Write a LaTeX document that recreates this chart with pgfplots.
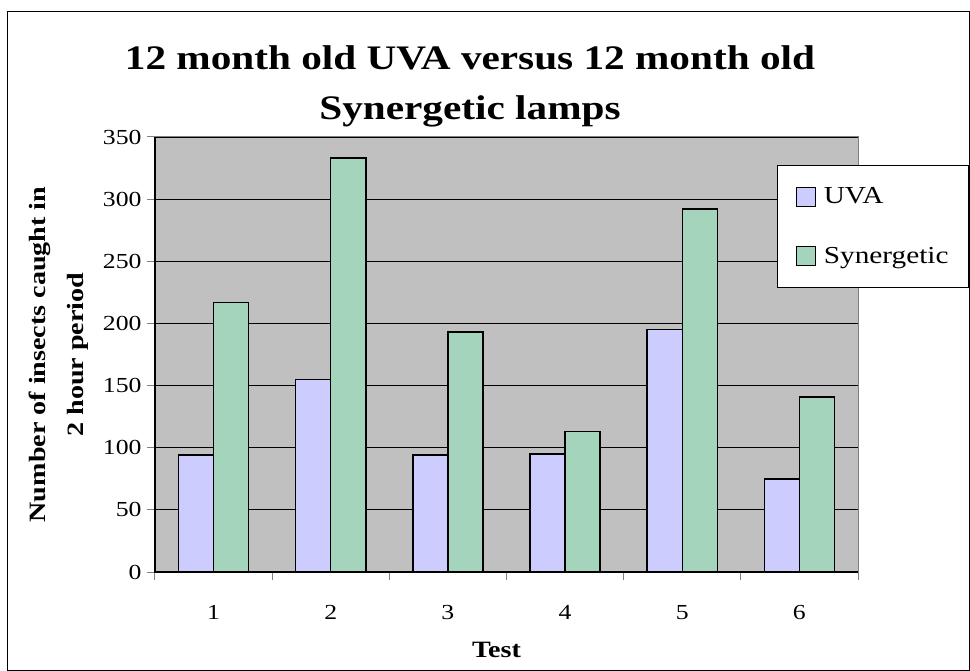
\documentclass[border=0pt]{standalone}
\usepackage{fontspec}
\setmainfont{Liberation Serif}[FakeStretch=1.2]
\usepackage{pgfplots}
\pgfplotsset{compat=1.18}
\definecolor{uva}{RGB}{204,204,255}
\definecolor{syn}{RGB}{165,212,188}
\definecolor{plotbg}{RGB}{192,192,192}
\definecolor{boxgray}{RGB}{128,128,128}
\begin{document}
\begin{tikzpicture}
\path (-155bp,-99bp) rectangle (815bp,572bp);
\draw[line width=1bp] (-147bp,-98bp) rectangle (814bp,560bp);
\begin{axis}[
  name=ax,
  at={(0,0)}, anchor=south west,
  scale only axis, width=703bp, height=435bp,
  xmin=0.5, xmax=6.5, ymin=0, ymax=350,
  ybar=0pt, bar width=0.3,
  axis background/.style={fill=plotbg},
  axis line style={draw=boxgray, line width=1bp},
  xtick={0.5,1.5,...,6.5}, xticklabels={},
  extra x ticks={1,2,3,4,5,6},
  extra x tick labels={1,2,3,4,5,6},
  extra x tick style={major tick length=0pt, xticklabel style={yshift=-30bp}},
  ytick={0,50,...,350},
  tick align=outside, tick pos=left,
  major tick length=8bp,
  tick style={draw=boxgray, line width=1bp},
  ymajorgrids, grid style={draw=black, line width=0.8bp},
  /pgf/number format/assume math mode=true,
  ticklabel style={font=\fontsize{21.5}{24}\selectfont},
  yticklabel style={xshift=-2bp},
  xlabel={\textbf{Test}},
  xlabel style={at={(axis description cs:0.5,0)}, anchor=center, yshift=-78bp, xshift=-10bp, font=\fontsize{23.5}{28}\selectfont},
  ylabel={\textbf{Number of insects caught in}\\\textbf{2 hour period}},
  ylabel style={at={(axis description cs:0,0.5)}, anchor=center, yshift=96bp, align=center, font=\fontsize{23.5}{38}\selectfont},
  legend style={at={(0.885,0.936)}, anchor=north west, draw=black, line width=1bp, fill=white,
    font=\fontsize{24.5}{29}\selectfont, inner xsep=18bp, inner ysep=20.5bp, row sep=38bp,
    cells={anchor=west},
    /tikz/every odd column/.append style={column sep=6bp}},
  legend image code/.code={\draw[#1, line width=1.2bp] (0bp,-9.5bp) rectangle (19bp,9.5bp);},
  every axis plot/.append style={draw=black, line width=1.5bp},
  after end axis/.code={
    \draw[black, line width=1.2bp] (rel axis cs:0,1) -- (rel axis cs:0,0) -- (rel axis cs:1,0);
  },
]
\addplot[fill=uva] coordinates {(1,94) (2,155) (3,94) (4,95) (5,195) (6,75)};
\addplot[fill=syn] coordinates {(1,217) (2,333) (3,193) (4,113) (5,292) (6,141)};
\legend{UVA, Synergetic}
\end{axis}
\node[align=center, font=\fontsize{34.5}{50}\selectfont\bfseries] at (315bp,486bp) {12 month old UVA versus 12 month old\\Synergetic lamps};
\end{tikzpicture}
\end{document}
